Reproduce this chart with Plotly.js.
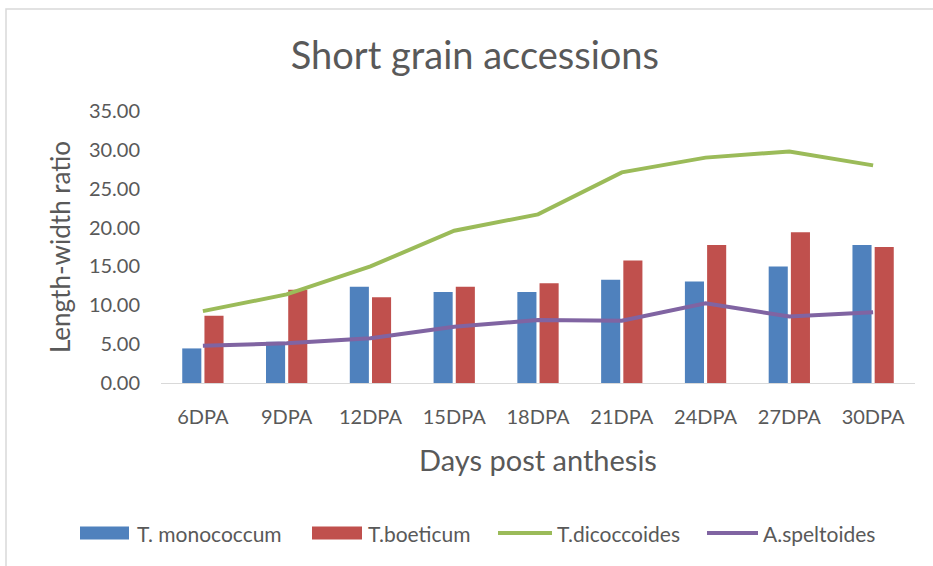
<!DOCTYPE html>
<html><head><meta charset="utf-8">
<script src="https://cdn.plot.ly/plotly-3.0.1.min.js"></script>
<style>html,body{margin:0;padding:0;background:#fff;}</style>
</head><body><div id="chart" style="width:933px;height:566px;"></div>
<script>
const categories = ["6DPA","9DPA","12DPA","15DPA","18DPA","21DPA","24DPA","27DPA","30DPA"];
const monococcum = [4.45, 5.3, 12.4, 11.7, 11.7, 13.3, 13.05, 15.0, 17.75];
const boeticum = [8.65, 12.0, 11.05, 12.4, 12.85, 15.75, 17.75, 19.4, 17.5];
const dicoccoides = [9.25, 11.4, 15.0, 19.6, 21.7, 27.1, 29.0, 29.8, 28.0];
const speltoides = [4.8, 5.1, 5.75, 7.25, 8.1, 8.0, 10.25, 8.55, 9.1];
const yTicks = [0,5,10,15,20,25,30,35];
const seriesNames = ["T. monococcum","T.boeticum","T.dicoccoides","A.speltoides"];
const seriesColors = ["#4F81BD","#C0504D","#9BBB59","#8064A2"];

const font = "Lato, 'Open Sans', sans-serif";
const W = 933, H = 566, M = {l:161, r:18, t:111, b:183};
const pw = W - M.l - M.r, ph = H - M.t - M.b;
const px = v => (v - M.l) / pw;      // pixel -> paper x
const py = v => (H - M.b - v) / ph;  // pixel -> paper y

const traces = [
  {type:"bar", name:seriesNames[0], x:categories, y:monococcum, marker:{color:seriesColors[0]}},
  {type:"bar", name:seriesNames[1], x:categories, y:boeticum, marker:{color:seriesColors[1]}},
  {type:"scatter", mode:"lines", name:seriesNames[2], x:categories, y:dicoccoides, line:{color:seriesColors[2], width:4}},
  {type:"scatter", mode:"lines", name:seriesNames[3], x:categories, y:speltoides, line:{color:seriesColors[3], width:4}}
];

// legend (drawn manually to match wide swatches)
const legY = 533;
const legItems = [
  {kind:"rect", x0:80, x1:129, tx:135},
  {kind:"rect", x0:312, x1:362, tx:366},
  {kind:"line", x0:498, x1:552, tx:555},
  {kind:"line", x0:707, x1:758, tx:761}
];
const shapes = [{type:"rect", xref:"paper", yref:"paper", x0:px(6), x1:px(960), y0:py(600), y1:py(9), line:{color:"#d9d9d9", width:1.5}, fillcolor:"rgba(0,0,0,0)"}];
const annotations = [];
legItems.forEach((it, i) => {
  if (it.kind === "rect") {
    shapes.push({type:"rect", xref:"paper", yref:"paper", x0:px(it.x0), x1:px(it.x1), y0:py(legY+6.5), y1:py(legY-6.5), line:{width:0}, fillcolor:seriesColors[i]});
  } else {
    shapes.push({type:"line", xref:"paper", yref:"paper", x0:px(it.x0), x1:px(it.x1), y0:py(legY), y1:py(legY), line:{color:seriesColors[i], width:4}});
  }
  annotations.push({xref:"paper", yref:"paper", x:px(it.tx), y:py(legY), xanchor:"left", yanchor:"middle", showarrow:false, text:seriesNames[i], font:{size:21, color:"#595959", family:font}});
});

const layout = {
  width:W, height:H,
  margin:M,
  paper_bgcolor:"#fff", plot_bgcolor:"#fff",
  font:{family:font, color:"#595959"},
  title:{text:"Short grain accessions", x:0.509, xanchor:"center", y:0.902, yanchor:"middle", font:{size:38, color:"#595959", family:font}},
  barmode:"group", bargap:0.47, bargroupgap:0.14,
  showlegend:false,
  xaxis:{
    type:"category", showgrid:false, showline:true, linecolor:"#d9d9d9", linewidth:1,
    ticks:"", tickfont:{size:20, color:"#595959"}, ticklabelstandoff:16,
    title:{text:"Days post anthesis", font:{size:29, color:"#595959"}, standoff:23}
  },
  yaxis:{
    range:[0,35], tickvals:yTicks, ticktext:yTicks.map(v=>v.toFixed(2)),
    showgrid:false, zeroline:false, showline:false, ticks:"",
    tickfont:{size:20, color:"#595959"}, ticklabelstandoff:20,
    title:{text:"Length-width ratio", font:{size:26, color:"#595959"}, standoff:10}
  },
  shapes:shapes,
  annotations:annotations
};
Plotly.newPlot("chart", traces, layout, {displayModeBar:false, staticPlot:true});
</script></body></html>
